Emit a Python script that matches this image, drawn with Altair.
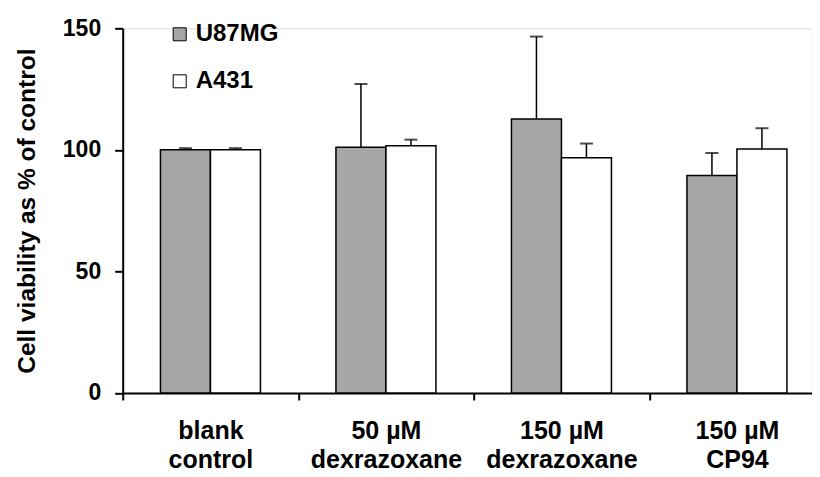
import altair as alt
import pandas as pd

categories = ["blank|control", "50 µM|dexrazoxane", "150 µM|dexrazoxane", "150 µM|CP94"]
series_names = ["U87MG", "A431"]
u87mg_values = [100.0, 101.1, 112.7, 89.5]
u87mg_errors = [0.7, 26.0, 33.9, 9.2]
a431_values = [100.0, 101.7, 96.8, 100.4]
a431_errors = [0.7, 2.5, 5.8, 8.5]
y_ticks = [0, 50, 100, 150]

rows = []
for i, c in enumerate(categories):
    rows.append({"category": c, "series": "U87MG", "value": u87mg_values[i], "err": u87mg_errors[i]})
    rows.append({"category": c, "series": "A431", "value": a431_values[i], "err": a431_errors[i]})
df = pd.DataFrame(rows)

FONT = "Liberation Sans"

x_enc = alt.X(
    "category:N",
    sort=categories,
    scale=alt.Scale(range=[0, 702], paddingInner=0, paddingOuter=0),
    axis=alt.Axis(
        title=None,
        labelAngle=0,
        labelExpr="split(datum.label, '|')",
        labelFont=FONT,
        labelFontWeight="bold",
        labelFontSize=25,
        labelColor="black",
        labelLineHeight=28.5,
        labelPadding=19,
        labelBaseline="top",
        tickBand="extent",
        tickSize=7,
        tickWidth=2,
        tickColor="black",
        domainColor="black",
        domainWidth=2,
    ),
)
xoff = alt.XOffset("series:N", sort=series_names, scale=alt.Scale(paddingOuter=0.755, paddingInner=0))
y_enc = alt.Y(
    "value:Q",
    scale=alt.Scale(domain=[0, 150], nice=False),
    axis=alt.Axis(
        title="Cell viability as % of control",
        values=y_ticks,
        grid=False,
        labelFont=FONT,
        labelFontWeight="bold",
        labelFontSize=23,
        labelColor="black",
        labelPadding=14,
        tickSize=8,
        tickWidth=2,
        tickColor="black",
        domainColor="black",
        domainWidth=2,
        titleFont=FONT,
        titleFontWeight="bold",
        titleFontSize=24.5,
        titleColor="black",
        titlePadding=23,
    ),
)

base = alt.Chart(df)

bars = base.mark_bar(stroke="black", strokeWidth=1.5).encode(
    x=x_enc,
    xOffset=xoff,
    y=y_enc,
    fill=alt.Fill(
        "series:N",
        sort=series_names,
        scale=alt.Scale(domain=series_names, range=["#a6a6a6", "#ffffff"]),
        legend=alt.Legend(
            title=None,
            orient="none",
            legendX=45,
            legendY=-6,
            direction="vertical",
            symbolType="square",
            symbolSize=169,
            symbolStrokeColor="black",
            symbolStrokeWidth=1,
            labelFont=FONT,
            labelFontWeight="bold",
            labelFontSize=24,
            labelColor="black",
            labelOffset=4,
            rowPadding=23,
            padding=0,
        ),
    ),
)

err_rules = base.transform_calculate(upper="datum.value + datum.err").mark_rule(
    color="black", strokeWidth=1.5
).encode(
    x=alt.X("category:N", sort=categories),
    xOffset=alt.XOffset("series:N", sort=series_names),
    y=alt.Y("value:Q"),
    y2="upper:Q",
)

err_caps = base.transform_calculate(upper="datum.value + datum.err").mark_tick(
    color="black", thickness=2, size=13
).encode(
    x=alt.X("category:N", sort=categories),
    xOffset=alt.XOffset("series:N", sort=series_names),
    y=alt.Y("upper:Q"),
)

chart = alt.layer(bars, err_rules, err_caps).properties(
    width=689,
    height=364.7,
    padding={"left": 114.7, "top": 20.3, "right": 0, "bottom": 80},
    autosize=alt.AutoSizeParams(type="none"),
).configure_view(stroke=None).configure(background="white")

chart.save("out.html", embed_options={"renderer": "svg", "actions": False})
